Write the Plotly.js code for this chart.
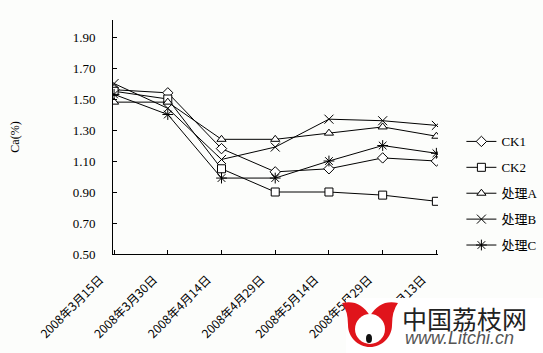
<!DOCTYPE html>
<html>
<head>
<meta charset="utf-8">
<script src="https://cdn.plot.ly/plotly-3.0.1.min.js"></script>
<style>html,body{margin:0;padding:0;background:#fcfdfb;}#chart{width:543px;height:353px;}</style>
</head>
<body>
<div id="chart"></div>
<script>
const categories = ["2008年3月15日","2008年3月30日","2008年4月14日","2008年4月29日","2008年5月14日","2008年5月29日","2008年6月13日"];
const seriesNames = ["CK1","CK2","处理A","处理B","处理C"];
const ck1 = [1.56, 1.54, 1.18, 1.03, 1.05, 1.12, 1.10];
const ck2 = [1.55, 1.50, 1.05, 0.90, 0.90, 0.88, 0.84];
const trtA = [1.48, 1.48, 1.24, 1.24, 1.28, 1.32, 1.26];
const trtB = [1.60, 1.44, 1.11, 1.19, 1.37, 1.36, 1.33];
const trtC = [1.53, 1.40, 0.99, 0.99, 1.10, 1.20, 1.15];
const yTicks = [0.5, 0.7, 0.9, 1.1, 1.3, 1.5, 1.7, 1.9];

const symbols = ["diamond","square","triangle-up","x-thin-open","asterisk-open"];
const sizes = [8, 8, 8, 9, 9];
const fills = ['#fff','#fff','#fff','#000','#000'];
const allData = [ck1, ck2, trtA, trtB, trtC];
const xIdx = categories.map((c,i)=>i);

const traces = allData.map((vals, k) => ({
  x: xIdx, y: vals, name: seriesNames[k], type: 'scatter', mode: 'lines+markers',
  legendgroup: 'g'+k,
  line: {color: '#000', width: 1},
  marker: {symbol: symbols[k], size: sizes[k], color: fills[k], line: {color: '#000', width: 1}}
}));

// watermark geometry helpers (pixel -> paper)
function px(x){return (x-113)/325;}
function py(y){return (254-y)/234;}
function path(pts){
  return pts.map(p => p[0] + ' ' + (function(){const a=[];for(let i=1;i<p.length;i+=2)a.push(px(p[i]).toFixed(4)+','+py(p[i+1]).toFixed(4));return a.join(' ');})()).join(' ');
}
const logoOuter = path([
  ['M',342,303],
  ['Q',360,299,370,316],
  ['Q',380,299,398,303],
  ['Q',392,311,392,325],
  ['C',392,337,382,347,370,347],
  ['C',358,347,348,337,348,325],
  ['Q',348,311,342,303]
]) + ' Z';

const layout = {
  width: 543, height: 353,
  margin: {l: 113, r: 105, t: 20, b: 99, autoexpand: false},
  paper_bgcolor: '#fcfdfb', plot_bgcolor: '#fcfdfb',
  showlegend: true,
  legend: {x: 1.072, xanchor: 'left', y: 0.545, yanchor: 'top',
           font: {family: '"Liberation Serif", "Noto Sans CJK SC", serif', size: 13, color: '#000'},
           tracegroupgap: 6, bgcolor: 'rgba(0,0,0,0)'},
  xaxis: {
    range: [-0.02, 6.03], tickvals: xIdx, ticktext: categories, tickangle: -45,
    showline: true, linecolor: '#000', linewidth: 1, ticks: 'inside', ticklen: 4, tickcolor: '#000',
    showgrid: false, zeroline: false, fixedrange: true,
    ticklabelshift: -14, ticklabelstandoff: 13,
    tickfont: {family: '"Noto Sans CJK SC", sans-serif', size: 12, color: '#000'}
  },
  yaxis: {
    range: [0.5, 2.01], tickvals: yTicks, tickformat: '.2f',
    showline: true, linecolor: '#000', linewidth: 1, ticks: 'inside', ticklen: 4, tickcolor: '#000',
    showgrid: false, zeroline: false, fixedrange: true,
    ticklabelstandoff: 14,
    tickfont: {family: '"Liberation Serif", serif', size: 13, color: '#000'},
    title: {text: 'Ca(%)', standoff: 50, font: {family: '"Liberation Serif", serif', size: 12, color: '#000'}}
  },
  shapes: [
    {type: 'rect', xref: 'paper', yref: 'paper', x0: px(346), x1: px(543), y0: py(298), y1: py(353),
     line: {width: 0}, fillcolor: '#ffffff', layer: 'above'},
    {type: 'path', xref: 'paper', yref: 'paper', path: logoOuter,
     line: {width: 0}, fillcolor: '#e0141b', layer: 'above'},
    {type: 'circle', xref: 'paper', yref: 'paper', x0: px(355), x1: px(385), y0: py(314), y1: py(344),
     line: {width: 0}, fillcolor: '#ffffff', layer: 'above'},
    {type: 'circle', xref: 'paper', yref: 'paper', x0: px(366), x1: px(372), y0: py(334), y1: py(343),
     line: {width: 0}, fillcolor: '#111', layer: 'above'}
  ],
  annotations: [
    {xref: 'paper', yref: 'paper', x: px(400), y: py(318), xanchor: 'left', yanchor: 'middle', showarrow: false,
     text: '中国荔枝网', font: {family: '"Noto Sans CJK SC", sans-serif', size: 25, color: '#222'}},
    {xref: 'paper', yref: 'paper', x: px(403), y: py(338), xanchor: 'left', yanchor: 'middle', showarrow: false,
     text: '<i>www.Litchi.cn</i>', font: {family: 'Arial, "Liberation Sans", sans-serif', size: 18, color: '#555'}}
  ]
};
Plotly.newPlot('chart', traces, layout, {displayModeBar: false, staticPlot: true});
</script>
</body>
</html>
